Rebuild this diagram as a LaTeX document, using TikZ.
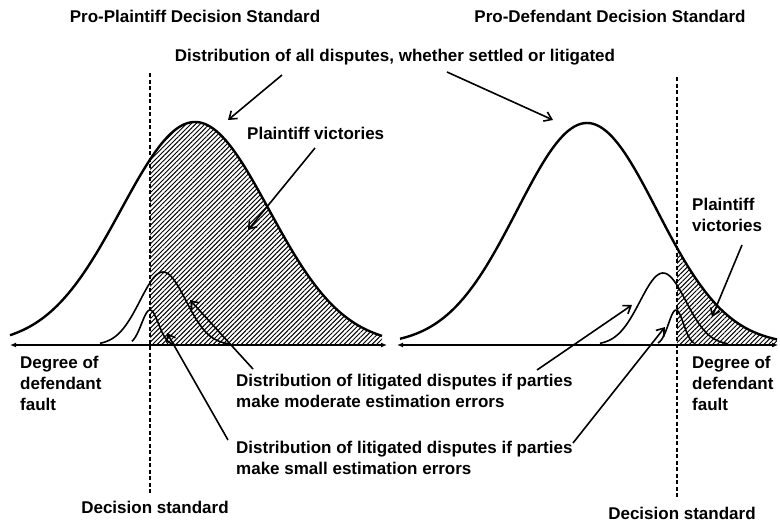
\documentclass[tikz,border=0pt]{standalone}
\usepackage{fontspec}
\setmainfont{Liberation Sans}
\usetikzlibrary{arrows.meta,patterns.meta}

\tikzset{
  bigcurve/.style={line width=2.4pt},
  litcurve/.style={line width=1.6pt},
  faultaxis/.style={line width=1.4pt,{Latex[length=6pt,width=5pt]}-{Latex[length=6pt,width=5pt]}},
  pointer/.style={line width=1.6pt,-{Straight Barb[length=7pt,width=10pt]}},
  standard/.style={line width=1.3pt,dash pattern=on 4pt off 2.5pt},
  txt/.style={font=\bfseries\fontsize{17}{21}\selectfont,inner sep=0pt,align=left},
  hatch/.style={pattern={Lines[angle=45,distance=3.3pt,line width=0.95pt]}}
}

\begin{document}
\begin{tikzpicture}[x=1pt,y=-1pt,
  declare function={
    pp(\x)=223*exp(-0.5*((\x-195)/74)^2);
    pd(\x)=222*exp(-0.5*((\x-587)/70)^2);
    gs(\x,\c,\s,\h)=\h*exp(-0.5*((\x-\c)/\s)^2);
  }]
\useasboundingbox (0,0) rectangle (780,525);
%\draw [lightgray,step=20](0,0) grid (780,525);

% hatched parts (plaintiff wins)
\fill [hatch] (150,345) -- plot[domain=150:382,samples=80] (\x,{345-pp(\x)}) -- (382,345) -- cycle;
\fill [hatch] (677,345) -- plot[domain=677:777,samples=60] (\x,{345-pd(\x)}) -- (777,345) -- cycle;

% pro-plaintiff
\draw [bigcurve] plot[domain=10:382,samples=120] (\x,{345-pp(\x)});
\draw [litcurve] plot[domain=100:228,samples=60] (\x,{345-gs(\x,163,23,73)}); % moderate
\draw [litcurve] plot[domain=132:175,samples=40] (\x,{345-gs(\x,150,8.5,35)}); % small

% pro-defendant
\draw [bigcurve] plot[domain=400:777,samples=120] (\x,{345-pd(\x)});
\draw [litcurve] plot[domain=600:727,samples=60] (\x,{345-gs(\x,663,23,72)}); % moderate
\draw [litcurve] plot[domain=658:694,samples=40] (\x,{345-gs(\x,676,7.5,35)}); % small

% axes
\coordinate (axL1) at (10,345);
\coordinate (axL2) at (387,345);
\coordinate (axR1) at (397,345);
\coordinate (axR2) at (778,345);
\draw [faultaxis] (axL1) -- (axL2);
\draw [faultaxis] (axR1) -- (axR2);

% decision standards
\coordinate (dsL1) at (150,73);
\coordinate (dsL2) at (150,495);
\coordinate (dsR1) at (677,77);
\coordinate (dsR2) at (677,498);
\draw [standard] (dsL1) -- (dsL2);
\draw [standard] (dsR1) -- (dsR2);

% texts
\node [txt] (titleL) at (195,16) {Pro-Plaintiff Decision Standard};
\node [txt] (titleR) at (610,16) {Pro-Defendant Decision Standard};
\node [txt] (alldist) at (395,57) {Distribution of all disputes, whether settled or litigated};
\node [txt,anchor=west] (winsL) at (247,133) {Plaintiff victories};
\node [txt,anchor=west] (winsR) at (692,215) {Plaintiff\\victories};
\node [txt,anchor=west] (faultL) at (20,383) {Degree of\\defendant\\fault};
\node [txt,anchor=west] (faultR) at (692,383) {Degree of\\defendant\\fault};
\node [txt,anchor=west] (modtxt) at (236,391) {Distribution of litigated disputes if parties\\make moderate estimation errors};
\node [txt,anchor=west] (smalltxt) at (236,458) {Distribution of litigated disputes if parties\\make small estimation errors};
\node [txt] (stdL) at (155,507) {Decision standard};
\node [txt] (stdR) at (682,513) {Decision standard};

% pointers
\coordinate (a1) at (282,75);   \coordinate (b1) at (228,120);
\coordinate (a2) at (447,72);   \coordinate (b2) at (553,120);
\coordinate (a3) at (315,148);  \coordinate (b3) at (248,230);
\coordinate (a4) at (253,369);  \coordinate (b4) at (190,300);
\coordinate (a5) at (228,440);  \coordinate (b5) at (167,333);
\coordinate (a6) at (537,370);  \coordinate (b6) at (632,305);
\coordinate (a7) at (573,443);  \coordinate (b7) at (665,327);
\coordinate (a8) at (742,245);  \coordinate (b8) at (712,317);
\foreach \i in {1,...,8}
  \draw [pointer] (a\i) -- (b\i);

\end{tikzpicture}
\end{document}
